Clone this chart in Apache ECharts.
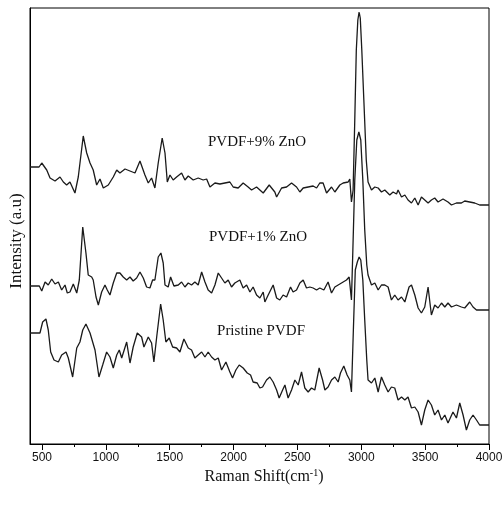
<!DOCTYPE html>
<html>
<head>
<meta charset="utf-8">
<script src="https://cdn.jsdelivr.net/npm/echarts@6/dist/echarts.min.js"></script>
<style>
html,body{margin:0;padding:0;background:#fff;}
#chart{width:502px;height:505px;}
</style>
</head>
<body>
<div id="chart"></div>
<script>
// Raman shift (cm^-1) and intensity (a.u., stacked offsets as plotted)
const zno9X = [406,477,498,537,563,602,641,667,693,719,758,784,823,850,876,901,928,954,980,1019,1058,1085,1110,1150,1189,1228,1267,1306,1332,1358,1384,1410,1441,1463,1481,1502,1527,1554,1593,1619,1645,1684,1723,1762,1789,1815,1854,1893,1932,1971,1997,2036,2075,2114,2141,2180,2232,2279,2284,2323,2337,2376,2415,2454,2493,2519,2545,2584,2623,2650,2675,2701,2728,2767,2793,2832,2858,2897,2910,2923,2936,2949,2961,2973,2983,2992,3004,3020,3039,3053,3080,3106,3132,3158,3184,3223,3249,3276,3288,3315,3341,3366,3393,3419,3445,3471,3497,3523,3549,3575,3601,3640,3679,3706,3745,3784,3810,3849,3888,3927,4000];
const zno9Y = [277,277,281,274,266,263,267,262,259,262,251,267,308,291,281,274,259,265,256,259,267,274,271,275,273,271,283,269,261,266,256,281,306,291,262,269,264,267,271,264,268,264,266,264,265,257,261,260,261,262,257,256,261,257,254,257,251,259,261,252,247,256,257,261,257,252,256,257,258,256,261,261,251,257,252,259,261,262,265,242,254,324,394,424,432,426,394,344,284,262,254,257,256,252,254,249,252,250,254,247,249,244,241,246,239,247,244,241,244,246,242,245,242,239,241,241,243,242,241,239,239];

const zno1X = [406,479,498,524,549,576,602,628,654,680,698,719,745,772,792,819,844,862,889,901,923,941,967,993,1011,1032,1058,1085,1110,1136,1163,1189,1214,1241,1267,1293,1319,1345,1366,1384,1410,1431,1449,1463,1488,1507,1533,1567,1593,1619,1645,1671,1697,1723,1750,1776,1801,1828,1854,1880,1906,1932,1958,1984,2010,2049,2075,2102,2128,2153,2180,2206,2232,2245,2271,2310,2337,2362,2388,2415,2446,2466,2493,2519,2545,2571,2597,2623,2650,2675,2707,2740,2767,2793,2819,2845,2884,2905,2923,2934,2949,2965,2981,2996,3012,3027,3043,3053,3080,3106,3132,3158,3184,3210,3236,3262,3288,3315,3341,3374,3393,3419,3445,3471,3497,3523,3549,3575,3601,3628,3654,3679,3706,3745,3784,3810,3849,3875,3902,4000];
const zno1Y = [158,158,153,162,159,165,160,162,154,159,151,152,160,151,164,217,191,169,167,164,147,139,152,159,154,149,161,171,171,167,164,167,163,166,172,166,157,156,164,164,187,191,181,159,157,167,158,159,162,157,161,159,162,159,172,162,154,151,159,171,166,161,164,157,161,164,156,159,152,157,149,146,152,142,149,159,146,144,149,147,157,152,154,161,164,156,157,156,154,156,154,162,151,157,159,161,164,167,144,194,264,304,312,304,264,214,179,169,159,161,154,159,159,157,144,149,144,147,142,157,159,149,136,131,137,157,129,139,136,141,137,141,137,139,137,136,142,137,134,134];

const pristineX = [406,484,505,531,549,568,594,628,654,688,706,740,772,797,819,844,876,915,946,975,1006,1032,1058,1085,1105,1124,1163,1189,1214,1246,1280,1298,1332,1358,1376,1398,1429,1449,1470,1496,1523,1554,1580,1611,1645,1671,1697,1723,1750,1776,1801,1828,1854,1880,1906,1940,1971,1992,2018,2044,2075,2107,2133,2153,2185,2206,2227,2258,2284,2310,2337,2357,2384,2402,2427,2454,2480,2506,2532,2558,2584,2610,2636,2670,2697,2715,2740,2767,2793,2819,2837,2863,2889,2910,2923,2938,2953,2969,2983,2996,3012,3027,3043,3053,3080,3106,3132,3158,3184,3210,3236,3262,3288,3315,3341,3366,3393,3419,3445,3471,3497,3523,3549,3575,3601,3628,3654,3679,3718,3745,3771,3797,3823,3849,3875,3902,3927,4000];
const pristineY = [111,111,122,125,114,92,84,82,89,92,86,67,96,102,114,120,111,94,67,79,92,87,76,89,94,86,102,81,97,111,107,97,107,101,82,107,140,124,102,106,97,96,92,105,96,94,86,89,92,87,92,87,84,86,74,82,72,66,74,79,76,71,69,62,61,56,57,64,67,62,54,46,54,59,46,54,64,59,72,56,52,56,54,76,64,54,57,64,67,62,71,78,69,64,52,114,174,182,187,184,164,124,84,64,61,66,52,67,59,52,57,56,44,47,44,47,36,37,32,19,34,44,39,29,34,24,29,21,32,26,41,29,14,24,29,24,19,19];

const majorTicks = [500,1000,1500,2000,2500,3000,3500,4000];
const minorTicks = [750,1250,1750,2250,2750,3250,3750];
const seriesNames = ['PVDF+9% ZnO','PVDF+1% ZnO','Pristine PVDF'];

function pairs(xs, ys){ return xs.map((x,i)=>[x, ys[i]]); }

const chart = echarts.init(document.getElementById('chart'), null, {renderer:'canvas'});
const lineStyle = {color:'#1a1a1a', width:1.3};
const serif = '"Liberation Serif","Times New Roman",serif';

chart.setOption({
  animation:false,
  backgroundColor:'#fff',
  grid:{left:30, right:13, top:8, bottom:61, show:true, borderColor:'#000', borderWidth:1, containLabel:false, outerBoundsMode:'none'},
  xAxis:[{
    type:'value', min:406, max:4000, position:'bottom',
    axisLine:{show:true, lineStyle:{color:'#000', width:1}},
    axisTick:{show:true, customValues:majorTicks, length:6, lineStyle:{color:'#000'}},
    axisLabel:{show:true, customValues:majorTicks, margin:8, color:'#111', fontSize:12, fontFamily:'"Liberation Sans",Arial,sans-serif', formatter:function(v){return String(v);}},
    splitLine:{show:false}
  },{
    type:'value', min:406, max:4000, position:'bottom', offset:0,
    axisLine:{show:false},
    axisTick:{show:true, customValues:minorTicks, length:3, lineStyle:{color:'#000'}},
    axisLabel:{show:false},
    splitLine:{show:false}
  }],
  yAxis:{
    type:'value', min:0, max:436,
    axisLine:{show:true, lineStyle:{color:'#000', width:1}},
    axisTick:{show:false}, axisLabel:{show:false}, splitLine:{show:false}
  },
  series:[
    {name:seriesNames[0], type:'line', data:pairs(zno9X, zno9Y), showSymbol:false, lineStyle:lineStyle, xAxisIndex:0},
    {name:seriesNames[1], type:'line', data:pairs(zno1X, zno1Y), showSymbol:false, lineStyle:lineStyle, xAxisIndex:0},
    {name:seriesNames[2], type:'line', data:pairs(pristineX, pristineY), showSymbol:false, lineStyle:lineStyle, xAxisIndex:0},
    {type:'line', data:[], xAxisIndex:1}
  ],
  graphic:[
    {type:'text', x:257, y:142, style:{text:seriesNames[0], font:'15px '+serif, fill:'#111', align:'center', verticalAlign:'middle'}},
    {type:'text', x:258, y:237, style:{text:seriesNames[1], font:'15px '+serif, fill:'#111', align:'center', verticalAlign:'middle'}},
    {type:'text', x:261, y:331, style:{text:seriesNames[2], font:'15px '+serif, fill:'#111', align:'center', verticalAlign:'middle'}},
    {type:'text', x:17, y:241, rotation:Math.PI/2, style:{text:'Intensity (a.u)', font:'17px '+serif, fill:'#111', align:'center', verticalAlign:'middle'}},
    {type:'text', x:264, y:477, style:{text:'{b|Raman Shift(cm}{s|-1}{b|)}', rich:{b:{font:'16px '+serif, fill:'#111', color:'#111'}, s:{font:'10px '+serif, color:'#111', padding:[0,0,8,0]}}, align:'center', verticalAlign:'middle'}}
  ]
});
</script>
</body>
</html>
